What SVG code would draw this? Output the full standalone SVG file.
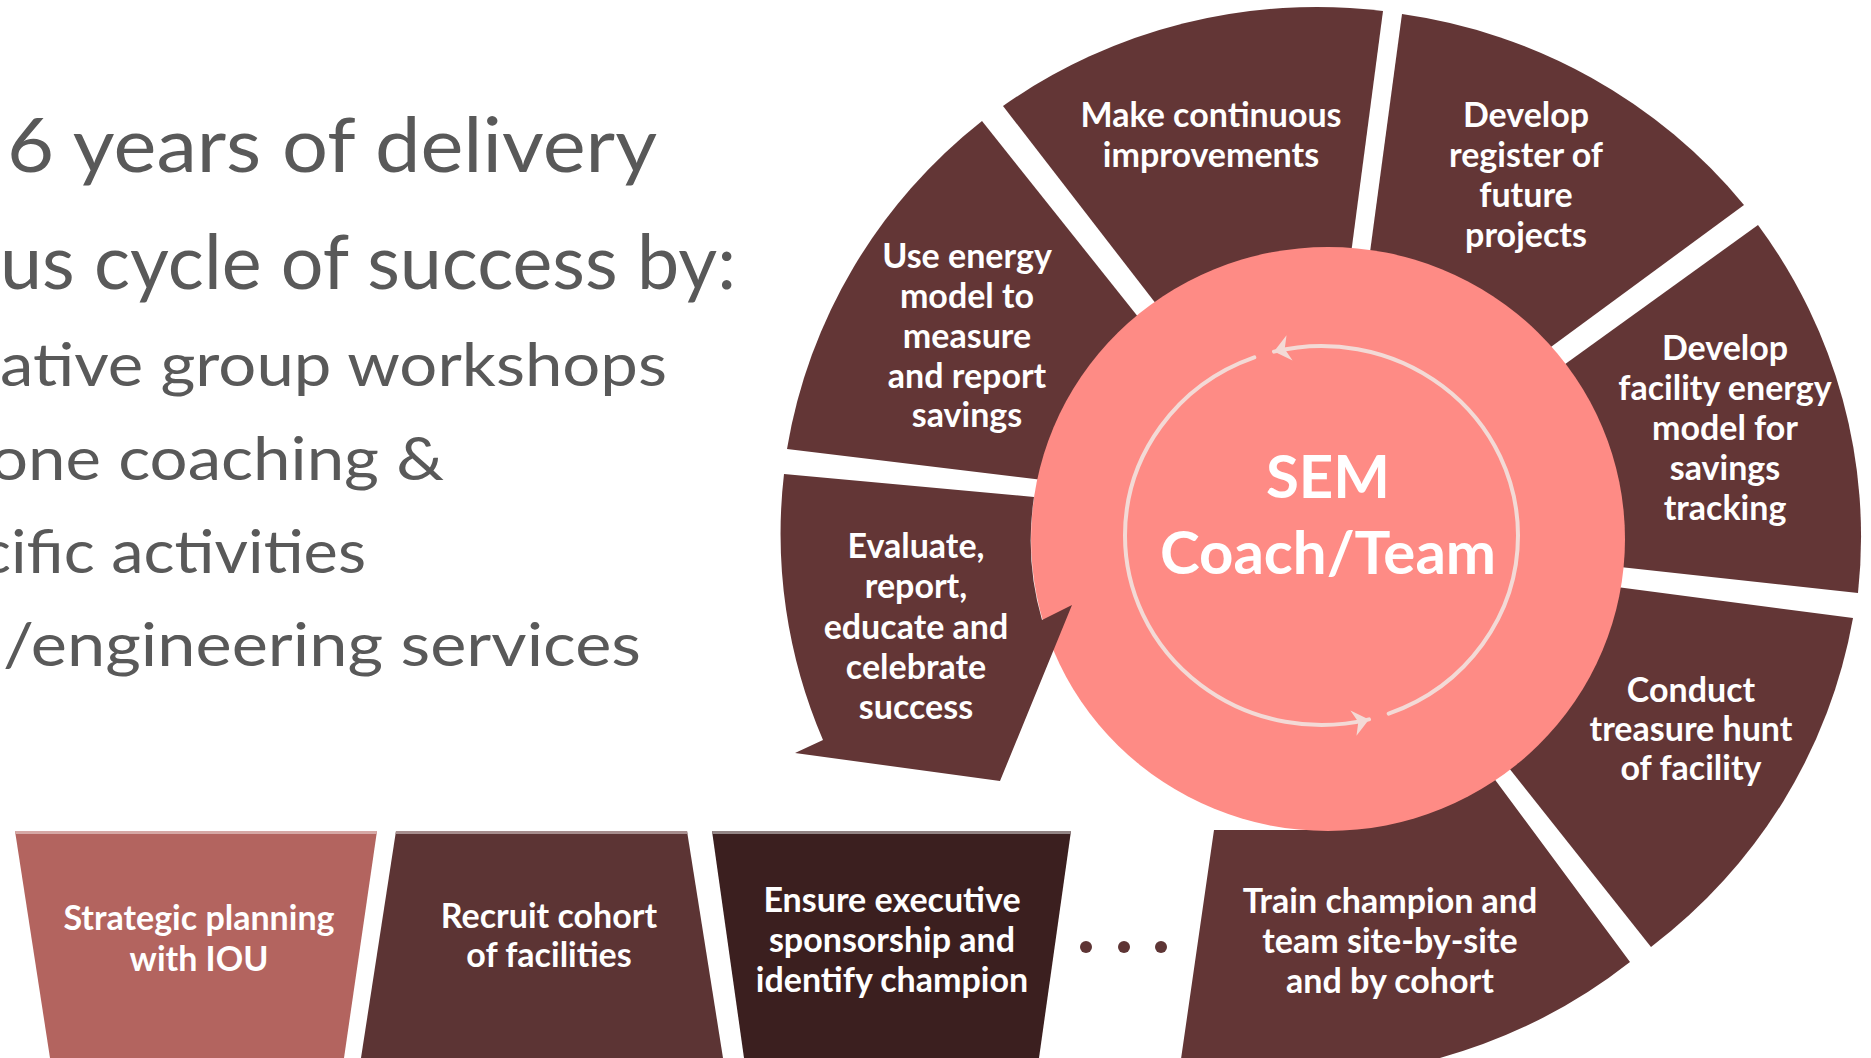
<svg xmlns="http://www.w3.org/2000/svg" width="1871" height="1058" viewBox="0 0 1871 1058">
  <defs>
    <style>
      .seg { fill: #633636; }
      .hub { fill: #FE8B85; }
      .lbl { font-family: Lato, "Liberation Sans", "DejaVu Sans", sans-serif; font-weight: 700; font-size: 34px; fill: #FFFFFF; text-anchor: middle; }
      .hubtxt { font-family: Lato, "Liberation Sans", "DejaVu Sans", sans-serif; font-weight: 700; font-size: 60px; fill: #FFFFFF; text-anchor: middle; }
      .intro { font-family: Lato, "Liberation Sans", "DejaVu Sans", sans-serif; font-weight: 400; fill: #595959; }
      .big { font-size: 76px; }
      .small { font-size: 60px; }
      .ring { fill: none; stroke: #F3DAD6; stroke-width: 4; stroke-linecap: round; }
      .dot { fill: #5E3535; }
    </style>
    <marker id="ring-head" markerUnits="userSpaceOnUse" viewBox="-20 -15 24 30" markerWidth="24" markerHeight="30" refX="0" refY="0" orient="auto">
      <path d="M0,0 L-16,-13 L-11,0 L-16,13 Z" fill="#F3DAD6"/>
    </marker>
  </defs>

  <rect width="1871" height="1058" fill="#FFFFFF"/>

  <!-- introductory text, clipped at the left edge -->
  <g id="intro-text" class="intro">
    <text class="big" x="7" y="172" textLength="650" lengthAdjust="spacingAndGlyphs">6 years of delivery</text>
    <text class="big" x="0" y="289" textLength="736" lengthAdjust="spacingAndGlyphs">us cycle of success by:</text>
    <text class="small" x="0" y="386" textLength="667" lengthAdjust="spacingAndGlyphs">ative group workshops</text>
    <text class="small" x="-10" y="480" textLength="454" lengthAdjust="spacingAndGlyphs">one coaching &amp;</text>
    <text class="small" x="-20" y="573" textLength="386" lengthAdjust="spacingAndGlyphs">cific activities</text>
    <text class="small" x="3" y="666" textLength="638" lengthAdjust="spacingAndGlyphs">/engineering services</text>
  </g>

  <!-- onboarding steps -->
  <g id="step-strategic">
    <polygon points="15,831 377,831 344,1058 50,1058" fill="#B3645F"/>
    <polygon points="15,831 377,831 376.6,834 15.4,834" fill="#D6A8A5"/>
    <text class="lbl" x="199" y="930">Strategic planning</text>
    <text class="lbl" x="199" y="971">with IOU</text>
  </g>
  <g id="step-recruit">
    <polygon points="396,831 687,831 723,1058 361,1058" fill="#5C3434"/>
    <polygon points="396,831 687,831 687.5,834 395.5,834" fill="#A78E8E"/>
    <text class="lbl" x="549" y="928">Recruit cohort</text>
    <text class="lbl" x="549" y="967">of facilities</text>
  </g>
  <g id="step-sponsor">
    <polygon points="712,831 1071,831 1039,1058 744,1058" fill="#3B1F1F"/>
    <polygon points="712,831 1071,831 1070.6,834 712.4,834" fill="#938585"/>
    <text class="lbl" x="892" y="912">Ensure executive</text>
    <text class="lbl" x="892" y="952">sponsorship and</text>
    <text class="lbl" x="892" y="992">identify champion</text>
  </g>
  <g id="ellipsis">
    <circle class="dot" cx="1086" cy="947" r="6"/>
    <circle class="dot" cx="1124" cy="947" r="6"/>
    <circle class="dot" cx="1161" cy="947" r="6"/>
  </g>

  <!-- cycle segments -->
  <g id="seg-continuous">
    <path class="seg" d="M1003,106 A539,530 0 0 1 1383,11 L1317,512 Z"/>
  </g>
  <g id="seg-register">
    <path class="seg" d="M1402,14 A539,530 0 0 1 1744,205 L1336,505 Z"/>
  </g>
  <g id="seg-facility">
    <path class="seg" d="M1758,225 A539,530 0 0 1 1858,593 L1328,535 Z"/>
  </g>
  <g id="seg-conduct">
    <path class="seg" d="M1853,618 A539,530 0 0 1 1651,947 L1336,550 Z"/>
  </g>
  <g id="seg-train">
    <path class="seg" d="M1630,962 A539,530 0 0 1 1180,1066 L1214,830 L1306,830 L1330,760 L1473,750 Z"/>
  </g>
  <g id="seg-use-model">
    <path class="seg" d="M787,449 A539,530 0 0 1 982,121 L1292,510 Z"/>
  </g>

  <!-- hub -->
  <g id="hub">
    <ellipse class="hub" cx="1328" cy="539" rx="297" ry="292"/>
  </g>

  <!-- closing segment: its arrow barb overlaps the hub -->
  <g id="seg-evaluate">
    <path class="seg" d="M784,474 L1034,497 A297,292 0 0 0 1042,620 L1072,605 L1000,781 L795,753 L823,740 A539,530 0 0 1 784,474 Z"/>
  </g>

  <!-- circular arrows inside the hub -->
  <g id="connectors">
    <path class="ring" d="M1388.7,713.6 A196.5,189.5 0 0 0 1518,535.5 A196.5,189.5 0 0 0 1274,351.6" marker-end="url(#ring-head)"/>
    <path class="ring" d="M1254.3,357.4 A196.5,189.5 0 0 0 1125,535.5 A196.5,189.5 0 0 0 1369,719.4" marker-end="url(#ring-head)"/>
  </g>

  <!-- labels -->
  <g id="hub-label">
    <text class="hubtxt" x="1328" y="498">SEM</text>
    <text class="hubtxt" x="1328" y="574">Coach/Team</text>
  </g>
  <g id="label-continuous">
    <text class="lbl" x="1211" y="127">Make continuous</text>
    <text class="lbl" x="1211" y="167">improvements</text>
  </g>
  <g id="label-register">
    <text class="lbl" x="1526" y="127">Develop</text>
    <text class="lbl" x="1526" y="167">register of</text>
    <text class="lbl" x="1526" y="207">future</text>
    <text class="lbl" x="1526" y="247">projects</text>
  </g>
  <g id="label-facility">
    <text class="lbl" x="1725" y="360">Develop</text>
    <text class="lbl" x="1725" y="400">facility energy</text>
    <text class="lbl" x="1725" y="440">model for</text>
    <text class="lbl" x="1725" y="480">savings</text>
    <text class="lbl" x="1725" y="520">tracking</text>
  </g>
  <g id="label-conduct">
    <text class="lbl" x="1691" y="702">Conduct</text>
    <text class="lbl" x="1691" y="741">treasure hunt</text>
    <text class="lbl" x="1691" y="780">of facility</text>
  </g>
  <g id="label-train">
    <text class="lbl" x="1390" y="913">Train champion and</text>
    <text class="lbl" x="1390" y="953">team site-by-site</text>
    <text class="lbl" x="1390" y="993">and by cohort</text>
  </g>
  <g id="label-use-model">
    <text class="lbl" x="967" y="268">Use energy</text>
    <text class="lbl" x="967" y="308">model to</text>
    <text class="lbl" x="967" y="348">measure</text>
    <text class="lbl" x="967" y="388">and report</text>
    <text class="lbl" x="967" y="427">savings</text>
  </g>
  <g id="label-evaluate">
    <text class="lbl" x="916" y="558">Evaluate,</text>
    <text class="lbl" x="916" y="598">report,</text>
    <text class="lbl" x="916" y="639">educate and</text>
    <text class="lbl" x="916" y="679">celebrate</text>
    <text class="lbl" x="916" y="719">success</text>
  </g>
</svg>
